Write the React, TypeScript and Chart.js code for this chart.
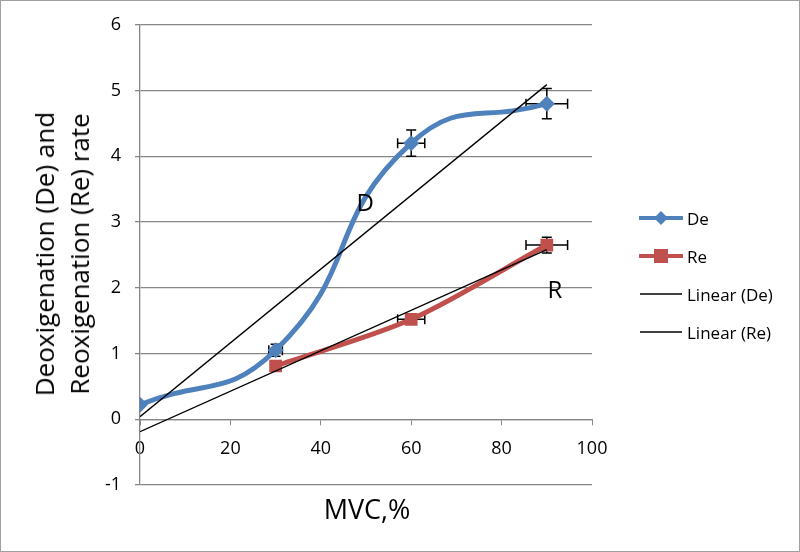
import { useEffect, useRef } from "react";
import { Chart, registerables } from "chart.js";
import type { Plugin } from "chart.js";

Chart.register(...registerables);

// series
const deX = [0, 30, 60, 90];
const deY = [0.22, 1.05, 4.2, 4.8];
const deErrX = [0, 1.5, 3, 4.6];
const deErrY = [0, 0.09, 0.2, 0.23];

const reX = [30, 60, 90];
const reY = [0.81, 1.52, 2.65];
const reErrX = [0, 3, 4.6];
const reErrY = [0, 0.04, 0.12];

// linear trend lines (end points)
const trendX = [0, 90];
const deTrendY = [0.04, 5.09];
const reTrendY = [-0.19, 2.58];

// text labels on the plot
const noteText = ["D", "R"];
const noteX = [49.8, 91.8];
const noteY = [3.27, 1.95];

const BLUE = "#4F81BD";
const RED = "#C0504D";
const GRID = "#868686";
const FONT = "'Open Sans', 'DejaVu Sans', sans-serif";

const toPoints = (xs: number[], ys: number[]) => xs.map((x, i) => ({ x, y: ys[i] }));

const errorBars: Plugin<"line"> = {
  id: "errorBars",
  beforeDatasetsDraw(chart) {
    const { ctx, scales } = chart;
    const sx = scales.x;
    const sy = scales.y;
    const sets = [
      { xs: deX, ys: deY, ex: deErrX, ey: deErrY },
      { xs: reX, ys: reY, ex: reErrX, ey: reErrY },
    ];
    const cap = 5;
    ctx.save();
    ctx.strokeStyle = "#000";
    ctx.lineWidth = 1.5;
    sets.forEach((s) => {
      s.xs.forEach((x, i) => {
        const px = sx.getPixelForValue(x);
        const py = sy.getPixelForValue(s.ys[i]);
        if (s.ex[i] > 0) {
          const x1 = sx.getPixelForValue(x - s.ex[i]);
          const x2 = sx.getPixelForValue(x + s.ex[i]);
          ctx.beginPath();
          ctx.moveTo(x1, py);
          ctx.lineTo(x2, py);
          ctx.moveTo(x1, py - cap);
          ctx.lineTo(x1, py + cap);
          ctx.moveTo(x2, py - cap);
          ctx.lineTo(x2, py + cap);
          ctx.stroke();
        }
        if (s.ey[i] > 0) {
          const y1 = sy.getPixelForValue(s.ys[i] + s.ey[i]);
          const y2 = sy.getPixelForValue(s.ys[i] - s.ey[i]);
          ctx.beginPath();
          ctx.moveTo(px, y1);
          ctx.lineTo(px, y2);
          ctx.moveTo(px - cap, y1);
          ctx.lineTo(px + cap, y1);
          ctx.moveTo(px - cap, y2);
          ctx.lineTo(px + cap, y2);
          ctx.stroke();
        }
      });
    });
    ctx.restore();
  },
  afterDatasetsDraw(chart) {
    const { ctx, scales } = chart;
    ctx.save();
    ctx.fillStyle = "#000";
    ctx.font = `24px ${FONT}`;
    ctx.textAlign = "center";
    ctx.textBaseline = "middle";
    noteText.forEach((t, i) => {
      ctx.fillText(t, scales.x.getPixelForValue(noteX[i]), scales.y.getPixelForValue(noteY[i]));
    });
    ctx.restore();
  },
};

function Swatch({ color, marker }: { color: string; marker?: "diamond" | "square" }) {
  const thick = marker ? 4 : 1.3;
  return (
    <svg width="44" height="16" style={{ display: "block" }}>
      <line x1="1" y1="8" x2="43" y2="8" stroke={color} strokeWidth={thick} strokeLinecap={marker ? "round" : "butt"} />
      {marker === "diamond" && <polygon points="22,1 29,8 22,15 15,8" fill={color} />}
      {marker === "square" && <rect x="15" y="1" width="14" height="14" fill={color} />}
    </svg>
  );
}

export default function App() {
  const canvasRef = useRef<HTMLCanvasElement>(null);
  const chartRef = useRef<Chart | null>(null);

  useEffect(() => {
    if (!canvasRef.current) return;
    chartRef.current?.destroy();

    chartRef.current = new Chart(canvasRef.current, {
      type: "line",
      data: {
        datasets: [
          {
            label: "Linear (De)",
            data: toPoints(trendX, deTrendY),
            borderColor: "#000",
            borderWidth: 1.3,
            pointRadius: 0,
            tension: 0,
            order: 0,
          },
          {
            label: "Linear (Re)",
            data: toPoints(trendX, reTrendY),
            borderColor: "#000",
            borderWidth: 1.3,
            pointRadius: 0,
            tension: 0,
            order: 0,
          },
          {
            label: "De",
            data: toPoints(deX, deY),
            borderColor: BLUE,
            backgroundColor: BLUE,
            borderWidth: 5,
            pointStyle: "rectRot",
            pointRadius: 8,
            pointBorderWidth: 0,
            tension: 0.5,
            order: 1,
          },
          {
            label: "Re",
            data: toPoints(reX, reY),
            borderColor: RED,
            backgroundColor: RED,
            borderWidth: 5,
            pointStyle: "rect",
            pointRadius: 9,
            pointBorderWidth: 0,
            tension: 0.3,
            order: 1,
          },
        ],
      },
      options: {
        responsive: false,
        animation: false,
        layout: { padding: { top: 23, right: 208, bottom: 67, left: 0 } },
        plugins: {
          legend: { display: false },
          tooltip: { enabled: false },
        },
        scales: {
          x: {
            type: "linear",
            position: { y: 0 },
            min: 0,
            max: 100,
            ticks: {
              stepSize: 20,
              color: "#000",
              font: { family: FONT, size: 18 },
              padding: 14,
            },
            grid: {
              drawOnChartArea: false,
              drawTicks: true,
              tickLength: 5,
              color: GRID,
            },
            border: { color: GRID, width: 1.3 },
          },
          y: {
            type: "linear",
            min: -1,
            max: 6,
            afterFit: (scale) => {
              scale.width = 140;
            },
            ticks: {
              stepSize: 1,
              color: "#000",
              font: { family: FONT, size: 18 },
              padding: 14,
            },
            grid: {
              color: GRID,
              lineWidth: 1.3,
              tickLength: 5,
            },
            border: { color: GRID, width: 1.3 },
          },
        },
      },
      plugins: [errorBars],
    });

    return () => {
      chartRef.current?.destroy();
      chartRef.current = null;
    };
  }, []);

  const legendItems = [
    { name: "De", color: BLUE, marker: "diamond" as const },
    { name: "Re", color: RED, marker: "square" as const },
    { name: "Linear (De)", color: "#000" },
    { name: "Linear (Re)", color: "#000" },
  ];

  return (
    <div
      style={{
        position: "absolute",
        left: 0,
        top: 0,
        width: 800,
        height: 552,
        background: "#fff",
        fontFamily: FONT,
        color: "#000",
      }}
    >
      <canvas ref={canvasRef} width={800} height={552} style={{ display: "block" }} />

      {/* y axis title */}
      <div
        style={{
          position: "absolute",
          left: 62,
          top: 254,
          transform: "translate(-50%, -50%) rotate(-90deg)",
          whiteSpace: "nowrap",
          textAlign: "center",
          fontSize: 26,
          lineHeight: "35px",
        }}
      >
        Deoxigenation (De) and
        <br />
        Reoxigenation (Re) rate
      </div>

      {/* x axis title */}
      <div
        style={{
          position: "absolute",
          left: 367,
          top: 508,
          transform: "translate(-50%, -50%)",
          whiteSpace: "nowrap",
          fontSize: 27,
        }}
      >
        MVC,%
      </div>

      {/* legend */}
      <div style={{ position: "absolute", left: 639, top: 199 }}>
        {legendItems.map((item) => (
          <div key={item.name} style={{ display: "flex", alignItems: "center", height: 38, fontSize: 17 }}>
            <Swatch color={item.color} marker={item.marker} />
            <span style={{ marginLeft: 4 }}>{item.name}</span>
          </div>
        ))}
      </div>

      <div
        style={{
          position: "absolute",
          inset: 0,
          border: "1px solid #a0a0a0",
          pointerEvents: "none",
        }}
      />
    </div>
  );
}
